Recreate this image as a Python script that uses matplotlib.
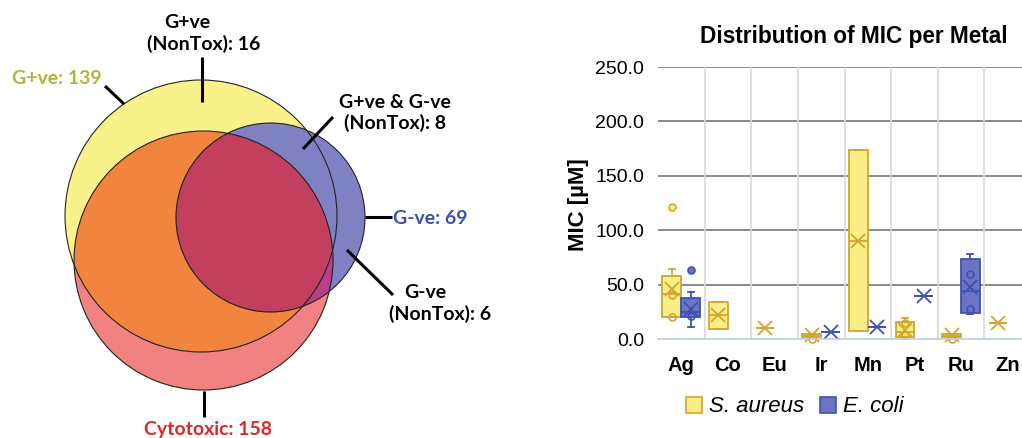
import numpy as np
import matplotlib
matplotlib.use("Agg")
import matplotlib.pyplot as plt
from matplotlib.patches import Circle, Polygon, Patch

# ---------------- data ----------------
venn_labels = {
    "gpos_total": "G+ve: 139",
    "gneg_total": "G-ve: 69",
    "cyto_total": "Cytotoxic: 158",
    "gpos_nontox": "G+ve\n(NonTox): 16",
    "both_nontox": "G+ve & G-ve\n(NonTox): 8",
    "gneg_nontox": "G-ve\n(NonTox): 6",
}

metals = ["Ag", "Co", "Eu", "Ir", "Mn", "Pt", "Ru", "Zn"]
nan = np.nan
# S. aureus box statistics (µM)
sa_q1 = [20.6, 9.2, 10.4, 1.5, 7.0, 2.0, 1.5, 14.4]
sa_med = [41.0, 22.0, 10.4, 3.0, 90.0, 6.0, 3.0, 14.4]
sa_q3 = [58.0, 34.4, 10.4, 5.0, 174.0, 16.0, 4.5, 14.4]
sa_lo = [20.6, 9.2, 10.4, 1.5, 7.0, 2.0, 1.5, 14.4]
sa_hi = [64.0, 34.4, 10.4, 5.0, 174.0, 19.6, 4.5, 14.4]
sa_mean = [45.7, 22.0, 10.4, 3.8, 90.0, 8.3, 3.5, 14.4]
sa_out = [[121.0], [], [], [], [], [], [], []]
sa_inner = [[40.5, 20.6], [], [], [0.0], [], [14.4, 4.0], [0.0], []]
# E. coli box statistics (µM)
ec_q1 = [20.6, nan, nan, 6.0, 11.3, 39.6, 23.6, nan]
ec_med = [25.0, nan, nan, 6.0, 11.3, 39.6, 44.5, nan]
ec_q3 = [38.0, nan, nan, 6.0, 11.3, 39.6, 73.6, nan]
ec_lo = [11.3, nan, nan, 6.0, 11.3, 39.6, 22.7, nan]
ec_hi = [43.0, nan, nan, 6.0, 11.3, 39.6, 78.0, nan]
ec_mean = [28.0, nan, nan, 6.0, 11.3, 39.6, 48.0, nan]
ec_out = [[63.5], [], [], [], [], [], [], []]
ec_inner = [[21.0], [], [], [], [], [], [60.0, 28.0], []]

yticks = [0, 50, 100, 150, 200, 250]

# ---------------- figure ----------------
W, H = 1022, 438
fig = plt.figure(figsize=(W / 100, H / 100), dpi=100)
fig.patch.set_facecolor("white")

# ---------- Venn (pixel coordinate axes) ----------
av = fig.add_axes([0, 0, 1, 1])
av.set_xlim(0, W)
av.set_ylim(H, 0)
av.axis("off")

C_Y = (201, 216, 136)   # G+ve
C_R = (203.5, 260.5, 129.5)  # Cytotoxic
C_B = (270.5, 217.5, 94.5)  # G-ve


def circ_pts(c, n=1440):
    t = np.linspace(0, 2 * np.pi, n, endpoint=False)
    return np.column_stack([c[0] + c[2] * np.cos(t), c[1] + c[2] * np.sin(t)])


def inside(p, c, tol=1e-6):
    return (p[:, 0] - c[0]) ** 2 + (p[:, 1] - c[1]) ** 2 <= c[2] ** 2 + tol


def inter_poly(circles):
    pts = []
    for i, c in enumerate(circles):
        p = circ_pts(c)
        m = np.ones(len(p), bool)
        for j, o in enumerate(circles):
            if j != i:
                m &= inside(p, o, tol=1.0)
        pts.append(p[m])
    pts = np.vstack(pts)
    ctr = pts.mean(axis=0)
    ang = np.arctan2(pts[:, 1] - ctr[1], pts[:, 0] - ctr[0])
    return pts[np.argsort(ang)]


col_y = "#F9F28B"
col_r = "#F28181"
col_o = "#F1843F"
col_b = "#7F82C2"
col_m = "#B8408A"
col_c = "#C2405E"

av.add_patch(Circle(C_Y[:2], C_Y[2], facecolor=col_y, edgecolor="none"))
av.add_patch(Circle(C_R[:2], C_R[2], facecolor=col_r, edgecolor="none"))
av.add_patch(Polygon(inter_poly([C_Y, C_R]), closed=True, facecolor=col_o, edgecolor="none"))
av.add_patch(Circle(C_B[:2], C_B[2], facecolor=col_b, edgecolor="none"))
av.add_patch(Polygon(inter_poly([C_B, C_R]), closed=True, facecolor=col_m, edgecolor="none"))
av.add_patch(Polygon(inter_poly([C_B, C_R, C_Y]), closed=True, facecolor=col_c, edgecolor="none"))
for c in (C_Y, C_R, C_B):
    av.add_patch(Circle(c[:2], c[2], facecolor="none", edgecolor="#222222", lw=0.8))

lines = [((202, 57), (202, 102)),
         ((105, 86), (124, 104)),
         ((333, 117), (303, 149)),
         ((365, 217), (392, 217)),
         ((347, 250), (393, 295)),
         ((204, 391), (204, 417))]
for (x0, y0), (x1, y1) in lines:
    av.plot([x0, x1], [y0, y1], color="black", lw=2.2, solid_capstyle="butt")

vf = dict(family="Lato", fontweight="bold", fontsize=14)
av.text(187, 23, "G+ve", ha="center", va="center", color="black", **vf)
av.text(204, 44, "(NonTox): 16", ha="center", va="center", color="black", **vf)
av.text(12, 78, venn_labels["gpos_total"], ha="left", va="center", color="#B2B53A", **vf)
av.text(395, 102, "G+ve & G-ve", ha="center", va="center", color="black", **vf)
av.text(395, 123, "(NonTox): 8", ha="center", va="center", color="black", **vf)
av.text(393, 218, venn_labels["gneg_total"], ha="left", va="center", color="#3A4FB5", **vf)
av.text(425, 292, "G-ve", ha="center", va="center", color="black", **vf)
av.text(440, 314, "(NonTox): 6", ha="center", va="center", color="black", **vf)
av.text(208, 430, venn_labels["cyto_total"], ha="center", va="center", color="#E02626", **vf)

# ---------- Box plot ----------
x0, x1 = 658, 1031
ytop, ybot = 67, 339
ax = fig.add_axes([x0 / W, 1 - ybot / H, (x1 - x0) / W, (ybot - ytop) / H])
ax.set_xlim(-0.5, len(metals) - 0.5)
ax.set_ylim(0, 250)
ax.set_facecolor("none")

for s in ["top", "right", "left"]:
    ax.spines[s].set_visible(False)
ax.spines["bottom"].set_color("#BCCBE6")
ax.spines["bottom"].set_linewidth(1.2)

ax.set_yticks(yticks)
ax.set_yticklabels([f"{v:.1f}" for v in yticks], fontsize=14, family="Liberation Sans")
ax.set_xticks(np.arange(len(metals)))
ax.set_xticklabels(metals, fontsize=14.5, fontweight="bold", family="Liberation Sans")
ax.tick_params(axis="both", length=0)
ax.tick_params(axis="y", pad=10)
ax.tick_params(axis="x", pad=12)
for v in yticks[1:]:
    ax.axhline(v, color="#8A8A8A", lw=1.4, zorder=0)
for b in np.arange(0.5, len(metals) - 0.5, 1.0):
    ax.axvline(b, color="#D9D9D9", lw=1.2, zorder=0)
ax.axvline(len(metals) - 0.5, color="#D9D9D9", lw=1.2, zorder=0)

series = [
    dict(q1=sa_q1, med=sa_med, q3=sa_q3, lo=sa_lo, hi=sa_hi, mean=sa_mean, out=sa_out,
         inner=sa_inner, off=-0.205, fill="#FBEE86", edge="#D4A52C"),
    dict(q1=ec_q1, med=ec_med, q3=ec_q3, lo=ec_lo, hi=ec_hi, mean=ec_mean, out=ec_out,
         inner=ec_inner, off=0.2, fill="#6B74C4", edge="#3F51B0"),
]
for s in series:
    stats, pos = [], []
    for i in range(len(metals)):
        if np.isnan(s["q1"][i]):
            continue
        stats.append(dict(q1=s["q1"][i], med=s["med"][i], q3=s["q3"][i],
                          whislo=s["lo"][i], whishi=s["hi"][i], mean=s["mean"][i],
                          fliers=np.array(s["out"][i])))
        pos.append(i + s["off"])
    e = s["edge"]
    art = ax.bxp(stats, positions=pos, widths=0.4, capwidths=0.13, patch_artist=True,
                 showmeans=True, manage_ticks=False,
                 boxprops=dict(facecolor=s["fill"], edgecolor=e, linewidth=1.3),
                 medianprops=dict(color=e, linewidth=1.3),
                 whiskerprops=dict(color=e, linewidth=1.3),
                 capprops=dict(color=e, linewidth=1.3),
                 meanprops=dict(marker="x", markeredgecolor=e, markersize=10, markeredgewidth=1.3),
                 flierprops=dict(marker="o", markerfacecolor=s["fill"], markeredgecolor=e,
                                 markersize=5, markeredgewidth=1.2))
    for k in art:
        for a in art[k]:
            a.set_clip_on(False)
    for i, pts in enumerate(s["inner"]):
        if pts:
            ax.plot([i + s["off"]] * len(pts), pts, ls="none", marker="o", markersize=5,
                    markerfacecolor="none", markeredgecolor=e, markeredgewidth=1.2, clip_on=False)

fig.text(854 / W, 1 - 37 / H, "Distribution of MIC per Metal", ha="center", va="center",
         fontsize=16.3, fontweight="bold", family="Liberation Sans")
fig.text(578 / W, 1 - 205 / H, "MIC [µM]", ha="center", va="center", rotation=90,
         fontsize=16, fontweight="bold", family="Liberation Sans")

handles = [Patch(facecolor=series[0]["fill"], edgecolor=series[0]["edge"], lw=1.2),
           Patch(facecolor=series[1]["fill"], edgecolor=series[1]["edge"], lw=1.2)]
fig.legend(handles, ["S. aureus", "E. coli"], loc="center", bbox_to_anchor=(795 / W, 1 - 407 / H),
           ncol=2, frameon=False, handlelength=0.7, handleheight=0.7, handletextpad=0.35,
           columnspacing=0.7, prop=dict(family="Liberation Sans", style="italic", size=16))

fig.savefig("out.png", dpi=100, facecolor="white")
